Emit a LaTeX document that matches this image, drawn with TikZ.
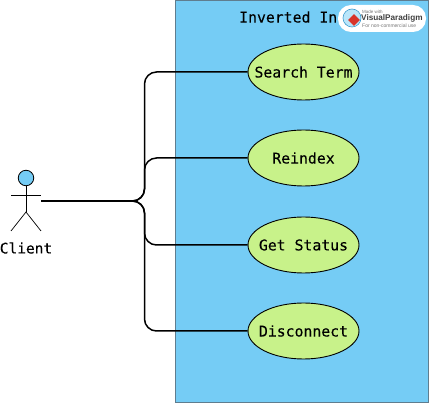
\documentclass[tikz,border=0pt]{standalone}
\usepackage{fontspec}
\setmainfont[FakeBold=0.12]{DejaVu Sans Mono}
\newfontfamily\logofont{Liberation Sans}
\usetikzlibrary{shapes.geometric}
\tikzset{
  usecase/.style={draw=black,fill=usecasegreen,ellipse,minimum width=111pt,minimum height=56pt,inner xsep=-20pt,inner ysep=-10pt,line width=0.9pt,font=\fontsize{14.8}{18}\selectfont},
  assoc/.style={draw=black,line width=1.5pt,rounded corners=12pt},
  limb/.style={draw=black,line width=0.7pt},
  logotext/.style={inner sep=0pt,anchor=west,text=logogray,font=\logofont\fontsize{6.5}{7}\selectfont}
}
\definecolor{usecasegreen}{HTML}{C8F28A}
\definecolor{sysblue}{HTML}{75CCF5}
\definecolor{sysborder}{HTML}{5F7D8F}
\definecolor{logogray}{HTML}{777777}
\definecolor{logored}{HTML}{D8342A}
\definecolor{logoblue}{HTML}{3D9CCF}
\begin{document}
\begin{tikzpicture}[x=1pt,y=-1pt]
\useasboundingbox (0,0) rectangle (429,403);
\fill [white] (0,0) rectangle (429,403);
\draw [draw=sysborder,fill=sysblue,line width=1.7pt] (175.5,0) rectangle (428.5,403);
\node [inner sep=0pt,anchor=west,font=\fontsize{14.8}{18}\selectfont] (title) at (239,17) {Inverted In};
% use cases
\node [usecase] (search) at (303.5,72) {Search Term};
\node [usecase] (reindex) at (303.5,158) {Reindex};
\node [usecase] (status) at (303.5,245) {Get Status};
\node [usecase] (disconnect) at (303.5,331) {Disconnect};
% actor
\node [circle,draw=black,fill=sysblue,minimum size=15.5pt,inner sep=0pt,line width=0.8pt] (head) at (26,178) {};
\coordinate (neck) at (26,212);
\coordinate (armleft) at (11,195);
\coordinate (armright) at (41,195);
\coordinate (footleft) at (11,231);
\coordinate (footright) at (41,231);
\coordinate (hand) at (41,201);
\draw [limb] (head) -- (neck);
\draw [limb] (armleft) -- (armright);
\draw [limb] (footleft) -- (neck) -- (footright);
\node [inner sep=0pt,font=\fontsize{14.5}{17}\selectfont] (client) at (26,248) {Client};
% associations
\draw [assoc] (hand) -- ++(103.5,0) |- (search);
\draw [assoc] (hand) -- ++(103.5,0) |- (reindex);
\draw [assoc] (hand) -- ++(103.5,0) |- (status);
\draw [assoc] (hand) -- ++(103.5,0) |- (disconnect);
% watermark
\node [draw=none,fill=white,rounded corners=13pt,minimum width=88pt,minimum height=27pt,inner sep=0pt] (logo) at (382,18.5) {};
\node [circle,draw=logoblue,fill=sysblue!50,minimum size=18pt,inner sep=0pt,line width=0.6pt] (globe) at (352,18) {};
\node [diamond,fill=logored,minimum size=12pt,inner sep=0pt] (mark) at (354,20) {};
\node [logotext,font=\logofont\fontsize{4.5}{5}\selectfont] (made) at (362,12) {Made with};
\node [logotext,text=black!75,font=\logofont\bfseries\fontsize{8.2}{10}\selectfont] (vp) at (361,18.5) {VisualParadigm};
\node [logotext,font=\logofont\fontsize{5}{6}\selectfont] (use) at (362,25.5) {For non-commercial use};
\end{tikzpicture}
\end{document}
